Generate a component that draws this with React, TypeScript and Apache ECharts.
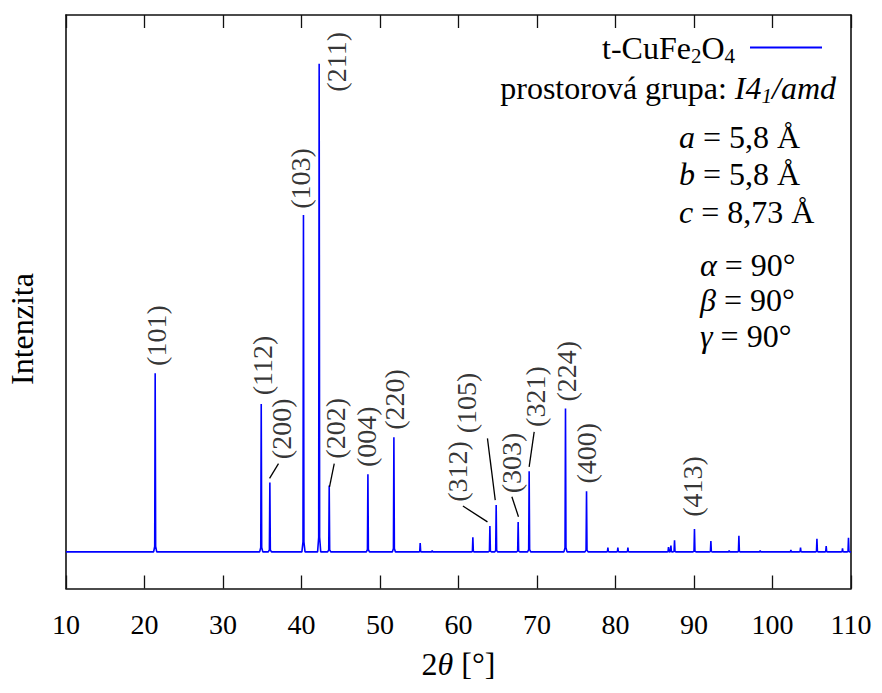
import React, { useEffect, useRef } from 'react';
import * as echarts from 'echarts';

const FONT = "'Liberation Serif', 'DejaVu Serif', serif";

// Peak positions (2θ, degrees) and relative intensities
const peakPos = [21.36, 34.87, 35.97, 40.25, 42.25, 43.53, 48.46, 51.77, 55.12, 56.65, 61.83, 64.0, 64.8, 67.6, 69.0, 73.63, 76.31, 79.03, 80.3, 81.58, 86.75, 87.06, 87.52, 90.06, 92.15, 94.48, 95.72, 98.43, 102.34, 103.57, 105.66, 106.84, 108.92, 109.68];
const peakInt = [36.6, 30.3, 14.2, 69.0, 100, 13.6, 15.9, 23.5, 1.8, 0.3, 3.0, 5.3, 9.6, 6.1, 16.5, 29.4, 12.4, 0.9, 0.9, 0.9, 1.0, 1.3, 2.4, 4.7, 2.2, 0.3, 3.3, 0.3, 0.4, 0.9, 2.7, 1.2, 0.7, 2.9];

// Miller-index annotations (anchor in data units: 2θ, intensity)
const hklLabels = ['(101)', '(112)', '(200)', '(103)', '(211)', '(202)', '(004)', '(220)', '(312)', '(105)', '(303)', '(321)', '(224)', '(400)', '(413)'];
const labelX = [21.49, 35.06, 37.51, 39.9, 44.43, 44.33, 48.24, 51.9, 59.86, 61.0, 66.8, 69.77, 73.81, 76.36, 89.83];
const labelY = [38.1, 32.1, 19.0, 70.3, 94.3, 19.1, 17.4, 25.0, 10.25, 24.3, 12.0, 25.6, 30.8, 14.0, 7.2];

// Leader lines from peak to label
const leaderFrom = [[35.93, 15.05], [43.57, 13.3], [60.56, 9.4], [63.69, 23.25], [66.8, 11.3], [69.64, 24.6]];
const leaderTo = [[37.07, 18.1], [44.17, 18.1], [63.69, 6.15], [64.68, 10.6], [67.64, 7.2], [69.0, 17.4]];

const xTicks = { min: 10, max: 110, interval: 10 };
const yRange = { min: -7.5, max: 110 };

function buildProfile(): number[][] {
  const pts: number[][] = [[xTicks.min, 0], [xTicks.max, 0]];
  peakPos.forEach((p, i) => {
    const h = peakInt[i];
    pts.push([p - 0.2, 0], [p - 0.06, h * 0.03], [p, h], [p + 0.06, h * 0.03], [p + 0.2, 0]);
  });
  pts.sort((a, b) => a[0] - b[0]);
  return pts;
}

export default function App() {
  const ref = useRef<HTMLDivElement>(null);
  useEffect(() => {
    if (!ref.current) return;
    const chart = echarts.init(ref.current, undefined, { renderer: 'svg' });
    const frameLine = { show: true, onZero: false, lineStyle: { color: '#111', width: 1.6 } };
    const textRich = {
      it: { fontStyle: 'italic', fontFamily: FONT, fontSize: 32, color: '#000' },
      sub: { fontFamily: FONT, fontSize: 21, lineHeight: 20, verticalAlign: 'bottom', color: '#000' },
      itsub: { fontFamily: FONT, fontStyle: 'italic', fontSize: 21, lineHeight: 20, verticalAlign: 'bottom', color: '#000' },
    };
    const infoText = (text: string, x: number, y: number, align: string) => ({
      type: 'text',
      x,
      y,
      silent: true,
      style: {
        text,
        fontFamily: FONT,
        fontSize: 32,
        lineHeight: 37,
        fill: '#000',
        align,
        verticalAlign: 'middle',
        rich: textRich,
      },
    });
    chart.setOption({
      animation: false,
      grid: { left: 66, right: 31, top: 15, bottom: 104.5 },
      xAxis: [
        {
          type: 'value',
          position: 'bottom',
          ...xTicks,
          axisLine: frameLine,
          axisTick: { show: true, inside: true, length: 13, lineStyle: { color: '#111', width: 1.3 } },
          axisLabel: { color: '#000', fontSize: 28, fontFamily: FONT, margin: 22 },
          splitLine: { show: false },
          name: '2{it|θ} [°]',
          nameLocation: 'middle',
          nameGap: 59,
          nameTextStyle: { color: '#000', fontSize: 32, fontFamily: FONT, rich: textRich },
        },
        {
          type: 'value',
          position: 'top',
          ...xTicks,
          axisLine: frameLine,
          axisTick: { show: true, inside: true, length: 13, lineStyle: { color: '#111', width: 1.3 } },
          axisLabel: { show: false },
          splitLine: { show: false },
        },
      ],
      yAxis: [
        { type: 'value', position: 'left', ...yRange, axisLine: frameLine, axisTick: { show: false }, axisLabel: { show: false }, splitLine: { show: false } },
        { type: 'value', position: 'right', ...yRange, axisLine: frameLine, axisTick: { show: false }, axisLabel: { show: false }, splitLine: { show: false } },
      ],
      legend: {
        show: true,
        data: ['t-CuFe2O4'],
        right: 60,
        top: 29,
        padding: 0,
        align: 'right',
        icon: 'rect',
        itemWidth: 72,
        itemHeight: 2,
        formatter: () => 't-CuFe{sub|2}O{sub|4}',
        textStyle: { color: '#000', fontSize: 32, fontFamily: FONT, lineHeight: 37, padding: [0, 10, 0, 0], rich: textRich },
      },
      series: [
        {
          name: 't-CuFe2O4',
          type: 'line',
          data: buildProfile(),
          showSymbol: false,
          symbol: 'none',
          lineStyle: { color: '#0000ff', width: 1.6 },
          itemStyle: { color: '#0000ff' },
          silent: true,
          z: 3,
        },
        {
          name: 'hkl',
          type: 'scatter',
          data: hklLabels.map((t, i) => ({ name: t, value: [labelX[i], labelY[i]] })),
          symbolSize: 1,
          itemStyle: { color: 'rgba(0,0,0,0)' },
          silent: true,
          label: {
            show: true,
            formatter: (p: any) => p.name,
            position: 'inside',
            rotate: 90,
            align: 'left',
            verticalAlign: 'middle',
            color: '#000',
            fontSize: 28,
            fontFamily: FONT,
          },
          z: 4,
        },
        {
          name: 'leaders',
          type: 'lines',
          coordinateSystem: 'cartesian2d',
          data: leaderFrom.map((f, i) => ({ coords: [f, leaderTo[i]] })),
          lineStyle: { color: '#000', width: 1.3, opacity: 1 },
          silent: true,
          z: 4,
        },
      ],
      graphic: [
        infoText('prostorová grupa: {it|I4}{itsub|1}{it|/amd}', 836, 88, 'right'),
        infoText('{it|a} = 5,8 Å', 679, 137, 'left'),
        infoText('{it|b} = 5,8 Å', 679, 174, 'left'),
        infoText('{it|c} = 8,73 Å', 679, 212, 'left'),
        infoText('{it|α} = 90°', 700, 265, 'left'),
        infoText('{it|β} = 90°', 700, 300, 'left'),
        infoText('{it|γ} = 90°', 700, 336, 'left'),
        {
          type: 'text',
          x: 22,
          y: 329,
          rotation: Math.PI / 2,
          silent: true,
          style: { text: 'Intenzita', fontFamily: FONT, fontSize: 32, fill: '#000', align: 'center', verticalAlign: 'middle' },
        },
      ],
    });
    return () => chart.dispose();
  }, []);
  return <div ref={ref} style={{ position: 'absolute', left: 0, top: 0, width: 882, height: 693, background: '#fff' }} />;
}
